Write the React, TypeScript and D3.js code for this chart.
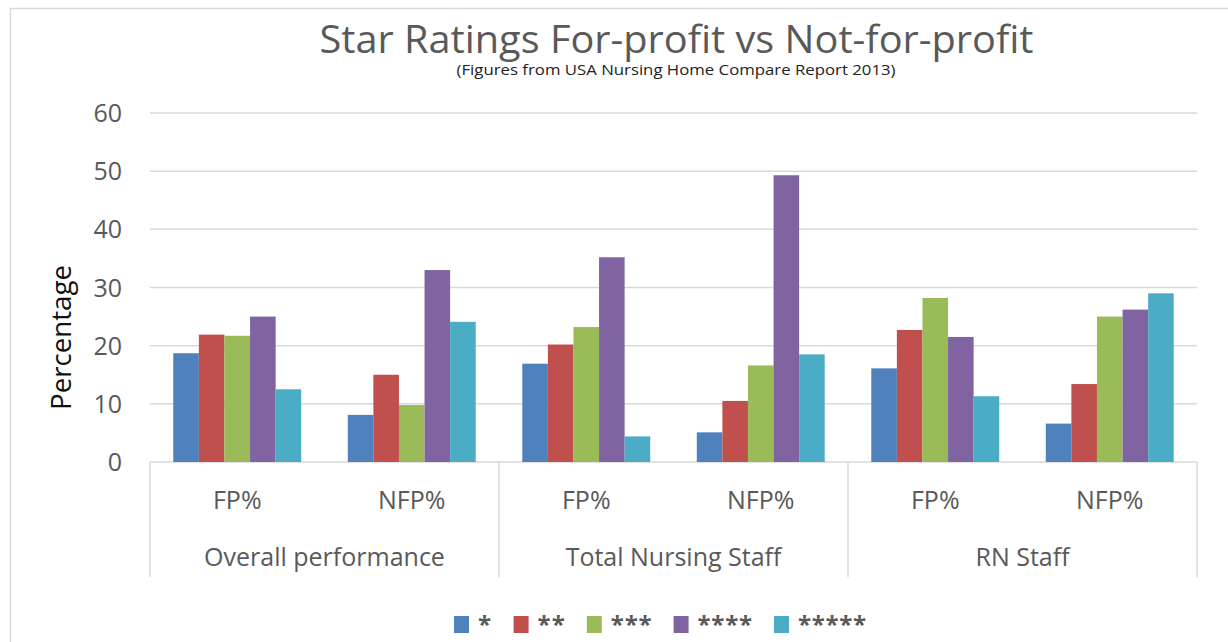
import React from "react";
import * as d3 from "d3";

const mainCategories = ["Overall performance", "Total Nursing Staff", "RN Staff"];
const subCategories = ["FP%", "NFP%"];
const seriesNames = ["*", "**", "***", "****", "*****"];
const seriesColors = ["#4F81BD", "#C0504D", "#9BBB59", "#8064A2", "#4BACC6"];
// order: Overall FP, Overall NFP, Total FP, Total NFP, RN FP, RN NFP
const star1 = [18.7, 8.1, 16.9, 5.1, 16.1, 6.6];
const star2 = [21.9, 15.0, 20.2, 10.5, 22.7, 13.4];
const star3 = [21.7, 9.8, 23.2, 16.6, 28.2, 25.0];
const star4 = [25.0, 33.0, 35.2, 49.3, 21.5, 26.2];
const star5 = [12.5, 24.1, 4.4, 18.5, 11.3, 29.0];
const seriesValues = [star1, star2, star3, star4, star5];
const yTicks = [0, 10, 20, 30, 40, 50, 60];

const W = 1228;
const H = 642;
const FONT = "'Open Sans', 'DejaVu Sans', sans-serif";
const TEXT = "#595959";
const GRID = "#d9d9d9";

export default function App() {
  const left = 150;
  const right = 1197;
  const y = d3.scaleLinear().domain([0, 60]).range([462, 113]);
  const xMain = d3.scaleBand<string>().domain(mainCategories).range([left, right]).padding(0);
  const xSub = d3.scaleBand<string>().domain(subCategories).range([0, xMain.bandwidth()]).padding(0);
  const xSer = d3
    .scaleBand<string>()
    .domain(seriesNames)
    .range([0, xSub.bandwidth()])
    .paddingInner(0)
    .paddingOuter(0.91);

  // legend layout
  const swatch = 15;
  const swatchGap = 9;
  const starW = 13.6;
  const itemGap = 22;
  const itemWidths = seriesNames.map((s) => swatch + swatchGap + s.length * starW);
  const totalLegend = d3.sum(itemWidths) + itemGap * (seriesNames.length - 1);
  const legendCenter = 660;
  let lx = legendCenter - totalLegend / 2;
  const legendX = itemWidths.map((w) => {
    const p = lx;
    lx += w + itemGap;
    return p;
  });

  return (
    <svg
      width={W}
      height={H}
      style={{ position: "absolute", left: 0, top: 0, background: "#fff" }}
      fontFamily={FONT}
    >
      <rect x={0} y={0} width={W} height={H} fill="#fff" />
      <rect x={10.5} y={8.5} width={1400} height={800} fill="none" stroke={GRID} strokeWidth={1.5} />

      <text
        x={676.5}
        y={53}
        textAnchor="middle"
        fontSize={39}
        fill={TEXT}
        textLength={714}
        lengthAdjust="spacingAndGlyphs"
      >
        Star Ratings For-profit vs Not-for-profit
      </text>
      <text
        x={676}
        y={75}
        textAnchor="middle"
        fontSize={15}
        fill="#222"
        textLength={439}
        lengthAdjust="spacingAndGlyphs"
      >
        (Figures from USA Nursing Home Compare Report 2013)
      </text>

      {/* gridlines */}
      {yTicks.map((t) => (
        <line key={t} x1={left} x2={right} y1={y(t)} y2={y(t)} stroke={GRID} strokeWidth={1.5} />
      ))}

      {/* y tick labels */}
      {yTicks.map((t) => (
        <text key={"l" + t} x={122} y={y(t) + 9} textAnchor="end" fontSize={25} fill={TEXT}>
          {t}
        </text>
      ))}

      <text
        transform={`translate(71, 337.5) rotate(-90)`}
        textAnchor="middle"
        fontSize={28}
        fill="#111"
        textLength={145}
        lengthAdjust="spacingAndGlyphs"
      >
        Percentage
      </text>

      {/* bars */}
      {mainCategories.map((m, mi) =>
        subCategories.map((s, si) => {
          const idx = mi * subCategories.length + si;
          const x0 = (xMain(m) as number) + (xSub(s) as number);
          return seriesNames.map((ser, k) => {
            const v = seriesValues[k][idx];
            return (
              <rect
                key={m + s + ser}
                x={x0 + (xSer(ser) as number)}
                y={y(v)}
                width={xSer.bandwidth()}
                height={y(0) - y(v)}
                fill={seriesColors[k]}
              />
            );
          });
        })
      )}

      {/* category axis separators */}
      {[...mainCategories.map((m) => xMain(m) as number), right].map((xv, i) => (
        <line key={"sep" + i} x1={xv} x2={xv} y1={y(0)} y2={577} stroke={GRID} strokeWidth={1.5} />
      ))}

      {/* sub labels */}
      {mainCategories.map((m) =>
        subCategories.map((s) => (
          <text
            key={"sl" + m + s}
            x={(xMain(m) as number) + (xSub(s) as number) + xSub.bandwidth() / 2}
            y={509}
            textAnchor="middle"
            fontSize={25}
            fill={TEXT}
          >
            {s}
          </text>
        ))
      )}

      {/* main labels */}
      {mainCategories.map((m) => (
        <text
          key={"ml" + m}
          x={(xMain(m) as number) + xMain.bandwidth() / 2}
          y={566}
          textAnchor="middle"
          fontSize={25}
          fill={TEXT}
        >
          {m}
        </text>
      ))}

      {/* legend */}
      {seriesNames.map((s, i) => (
        <g key={"lg" + s}>
          <rect x={legendX[i]} y={616} width={swatch} height={17} fill={seriesColors[i]} />
          <text
            x={legendX[i] + swatch + swatchGap}
            y={633}
            fontSize={24}
            fontWeight={700}
            fill={TEXT}
            textLength={s.length * starW}
            lengthAdjust="spacing"
          >
            {s}
          </text>
        </g>
      ))}
    </svg>
  );
}
